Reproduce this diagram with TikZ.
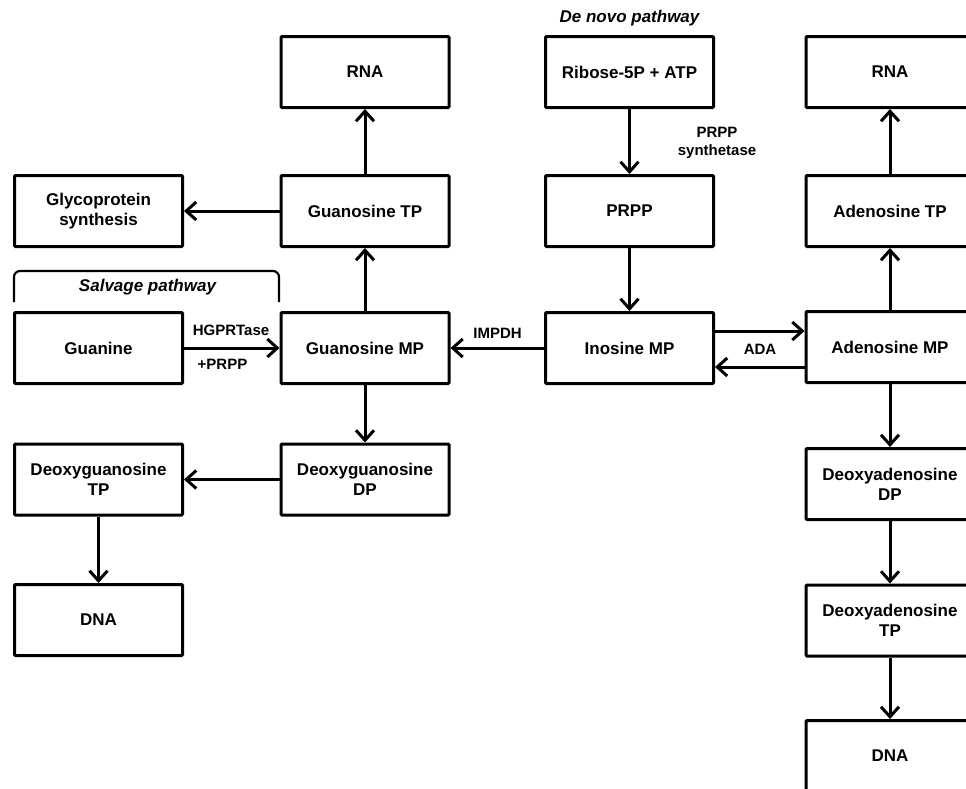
\documentclass[tikz,border=0pt]{standalone}
\usepackage{fontspec}
\setmainfont{Liberation Sans}
\usetikzlibrary{arrows.meta}
\begin{document}
\begin{tikzpicture}[x=1pt,y=-1pt,
  box/.style={draw,line width=3pt,rounded corners=1pt,minimum width=168pt,minimum height=71pt,
    align=center,inner sep=2pt,font=\bfseries\fontsize{17}{20}\selectfont},
  arr/.style={line width=3pt,-{Straight Barb[length=10pt,width=18pt,line width=3pt]}},
  lbl/.style={font=\bfseries\fontsize{15}{18}\selectfont,align=center,inner sep=0pt},
  ttl/.style={font=\bfseries\itshape\fontsize{17}{20}\selectfont,inner sep=0pt}]
\useasboundingbox (0,0) rectangle (966,788);
\clip (0,0) rectangle (966,788);
% column 1
\node[box] (glyco) at (98.5,211) {Glycoprotein\\synthesis};
\node[box] (guanine) at (98.5,348) {Guanine};
\node[box] (dgtp) at (98.5,479.5) {Deoxyguanosine\\TP};
\node[box] (dna1) at (98.5,620) {DNA};
% column 2
\node[box] (rna1) at (365,72) {RNA};
\node[box] (gtp) at (365,211) {Guanosine TP};
\node[box] (gmp) at (365,348) {Guanosine MP};
\node[box] (dgdp) at (365,479.5) {Deoxyguanosine\\DP};
% column 3
\node[box] (ribose) at (629.5,72) {Ribose-5P + ATP};
\node[box] (prpp) at (629.5,211) {PRPP};
\node[box] (imp) at (629.5,348) {Inosine MP};
% column 4
\node[box] (rna2) at (890,72) {RNA};
\node[box] (atp) at (890,211) {Adenosine TP};
\node[box] (amp) at (890,347) {Adenosine MP};
\node[box] (dadp) at (890,484) {Deoxyadenosine\\DP};
\node[box] (datp) at (890,620.5) {Deoxyadenosine\\TP};
\node[box] (dna2) at (890,756) {DNA};
% titles
\node[ttl] (denovo) at (629.5,18) {De novo pathway};
\node[ttl] (salvage) at (147.5,287) {Salvage pathway};
\draw[line width=2.2pt,rounded corners=6pt] (14,302) -- (14,271) -- (279,271) -- (279,302);
% labels
\node[lbl] (hgprt) at (231,330) {HGPRTase};
\node[lbl] (plusprpp) at (222.5,364) {+PRPP};
\node[lbl] (impdh) at (497.5,333) {IMPDH};
\node[lbl] (prppsyn) at (717,143) {PRPP\\synthetase};
\node[lbl] (ada) at (760,349) {ADA};
% connectors
\draw[arr] (gtp) -- (rna1);
\draw[arr] (gtp) -- (glyco);
\draw[arr] (gmp) -- (gtp);
\draw[arr] (guanine) -- (gmp);
\draw[arr] (imp) -- (gmp);
\draw[arr] (gmp) -- (dgdp);
\draw[arr] (dgdp) -- (dgtp);
\draw[arr] (dgtp) -- (dna1);
\draw[arr] (ribose) -- (prpp);
\draw[arr] (prpp) -- (imp);
\draw[arr] ([yshift=17pt]imp.east) -- ([yshift=17pt]imp.east -| amp.west);
\draw[arr] ([yshift=-20pt]amp.west) -- ([yshift=-20pt]amp.west -| imp.east);
\draw[arr] (amp) -- (atp);
\draw[arr] (atp) -- (rna2);
\draw[arr] (amp) -- (dadp);
\draw[arr] (dadp) -- (datp);
\draw[arr] (datp) -- (dna2);
\end{tikzpicture}
\end{document}
